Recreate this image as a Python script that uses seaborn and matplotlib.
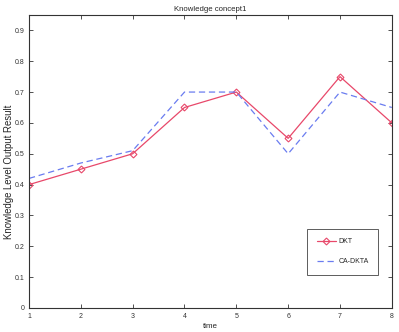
import matplotlib
matplotlib.use("Agg")
import matplotlib.pyplot as plt
import seaborn as sns
import pandas as pd

time = [1, 2, 3, 4, 5, 6, 7, 8]
dkt = [0.40, 0.45, 0.50, 0.65, 0.70, 0.55, 0.75, 0.60]
ca_dkta = [0.42, 0.47, 0.51, 0.70, 0.70, 0.50, 0.70, 0.65]
yticks = [0, 0.1, 0.2, 0.3, 0.4, 0.5, 0.6, 0.7, 0.8, 0.9]
yticklabels = ["0", "0.1", "0.2", "0.3", "0.4", "0.5", "0.6", "0.7", "0.8", "0.9"]

sns.set_style("white")
plt.rcParams['font.family'] = ['Liberation Sans', 'DejaVu Sans']

fig = plt.figure(figsize=(3.99, 3.32), dpi=100)
ax = fig.add_axes([0.0727, 0.0723, 0.9093, 0.8827])

df = pd.DataFrame({"time": time, "DKT": dkt, "CA-DKTA": ca_dkta})
sns.lineplot(data=df, x="time", y="DKT", ax=ax, color="#e8486a", lw=0.9,
             marker="D", markersize=3.5, markerfacecolor="none",
             markeredgecolor="#e8486a", markeredgewidth=0.8, label="DKT")
sns.lineplot(data=df, x="time", y="CA-DKTA", ax=ax, color="#6a7cf0", lw=0.9,
             linestyle=(0, (5, 3)), label="CA-DKTA")

ax.set_xlim(1, 8)
ax.set_ylim(0, 0.95)
ax.set_xticks(time)
ax.set_yticks(yticks)
ax.set_yticklabels(yticklabels)
ax.tick_params(direction="in", length=3, width=0.6, labelsize=5, colors="#333333",
               top=True, right=True, bottom=True, left=True)
for s in ax.spines.values():
    s.set_color("#333333")
    s.set_linewidth(0.8)
ax.set_title("Knowledge concept1", fontsize=5.6, pad=3)
ax.set_xlabel("time", fontsize=5.8, labelpad=2)
ax.set_ylabel("Knowledge Level Output Result", fontsize=6.9)
ax.yaxis.set_label_coords(-0.04, 0.465)

leg = ax.legend(loc="lower right", bbox_to_anchor=(0.972, 0.1), fontsize=5,
                frameon=True, fancybox=False, edgecolor="#333333",
                borderpad=1.4, labelspacing=1.9, handlelength=2.8, handletextpad=0.3)
leg.get_frame().set_linewidth(0.7)

fig.savefig("out.png", dpi=100, facecolor="white")
